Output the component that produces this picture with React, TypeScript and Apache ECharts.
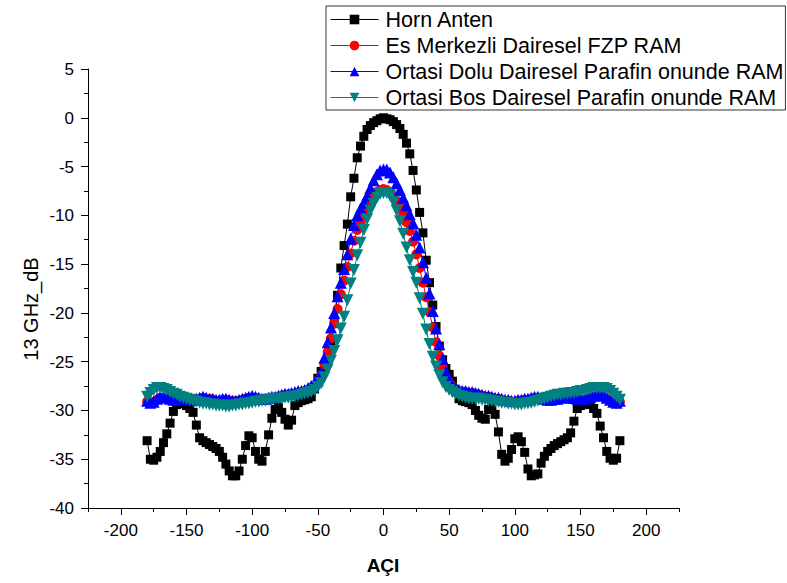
import React, { useEffect, useRef } from "react";
import * as echarts from "echarts";

// Angles: -180 .. 180 step 2.5 (145 points); each row below = 8 points (20 degrees)
const angleStart = -180;
const angleStep = 2.5;

const horn = [
  -33.1, -35.0, -35.1, -34.8, -34.2, -33.3, -32.4, -31.3, // -180
  -30.1, -29.4, -29.2, -29.3, -29.5, -29.8, -30.2, -31.5, // -160
  -32.8, -33.1, -33.3, -33.5, -33.7, -33.9, -34.2, -34.8, // -140
  -35.5, -36.2, -36.7, -36.7, -36.2, -35.0, -33.6, -32.6, // -120
  -32.8, -34.2, -35.0, -35.2, -34.2, -32.5, -30.8, -29.9, // -100
  -29.7, -30.2, -30.9, -31.5, -31.0, -29.5, -29.2, -29.0, // -80
  -28.9, -28.8, -28.6, -27.8, -26.7, -26.0, -25.4, -24.5, // -60
  -23.3, -21.1, -18.2, -15.4, -13.1, -10.9, -8.1, -6.2, // -40
  -4.1, -2.9, -1.9, -1.2, -0.8, -0.5, -0.3, -0.1, // -20
  0.0, -0.1, -0.2, -0.4, -0.7, -1.1, -1.7, -2.6, // 0
  -3.7, -5.4, -7.4, -9.7, -11.8, -14.6, -16.9, -19.2, // 20
  -21.4, -23.4, -24.8, -25.7, -26.3, -27.0, -28.1, -28.8, // 40
  -29.0, -29.1, -29.2, -29.4, -30.0, -30.5, -30.8, -30.9, // 60
  -29.9, -29.8, -30.4, -32.2, -34.5, -35.2, -34.9, -34.0, // 80
  -32.9, -32.7, -33.2, -34.3, -36.0, -36.7, -36.6, -36.5, // 100
  -35.4, -34.7, -34.2, -33.9, -33.6, -33.4, -33.2, -33.0, // 120
  -32.8, -32.3, -31.1, -29.8, -29.5, -29.4, -29.3, -29.4, // 140
  -29.8, -30.3, -31.6, -32.8, -34.2, -34.9, -35.1, -34.9, // 160
  -33.1, // 180
];

const esMerkezli = [
  -29.1, -29.2, -29.1, -28.9, -28.7, -28.7, -28.8, -28.9,
  -28.9, -29.0, -28.9, -28.8, -28.8, -28.9, -29.0, -28.9,
  -28.8, -28.7, -28.8, -28.8, -28.9, -29.0, -29.0, -28.9,
  -28.9, -29.0, -29.0, -29.1, -29.0, -28.9, -28.8, -28.7,
  -28.7, -28.7, -28.8, -28.9, -28.9, -28.8, -28.7, -28.7,
  -28.6, -28.5, -28.4, -28.4, -28.3, -28.3, -28.2, -28.1,
  -28.0, -27.9, -27.7, -27.4, -27.0, -26.4, -25.3, -24.0,
  -22.6, -21.1, -19.6, -18.1, -16.7, -15.3, -13.9, -12.6,
  -11.5, -10.6, -9.8, -9.1, -8.5, -8.0, -7.6, -7.4,
  -7.3, -7.4, -7.6, -8.0, -8.5, -9.1, -9.8, -10.7,
  -11.6, -12.7, -14.0, -15.4, -16.9, -18.4, -19.9, -21.5,
  -23.0, -24.4, -25.6, -26.5, -27.1, -27.5, -27.8, -28.0,
  -28.1, -28.1, -28.2, -28.2, -28.3, -28.4, -28.5, -28.6,
  -28.6, -28.7, -28.8, -28.8, -28.9, -29.0, -29.0, -29.1,
  -29.1, -29.0, -29.0, -28.9, -28.9, -28.8, -28.7, -28.7,
  -28.8, -28.9, -29.0, -29.0, -28.9, -28.9, -28.8, -28.7,
  -28.7, -28.8, -28.8, -28.9, -28.9, -28.9, -28.8, -28.7,
  -28.6, -28.5, -28.5, -28.6, -28.8, -29.0, -29.2, -29.3,
  -29.1,
];

const ortasiDolu = [
  -29.0, -29.2, -29.1, -28.8, -28.6, -28.6, -28.7, -28.8,
  -28.9, -28.9, -28.8, -28.7, -28.8, -28.9, -28.9, -28.8,
  -28.7, -28.6, -28.7, -28.8, -28.8, -28.9, -28.9, -28.8,
  -28.8, -28.9, -29.0, -29.0, -28.9, -28.8, -28.7, -28.6,
  -28.5, -28.6, -28.7, -28.8, -28.8, -28.7, -28.6, -28.6,
  -28.5, -28.4, -28.3, -28.3, -28.2, -28.1, -28.0, -28.0,
  -27.9, -27.7, -27.5, -27.2, -26.9, -26.1, -24.6, -23.0,
  -21.5, -20.0, -18.3, -16.9, -15.5, -14.0, -12.4, -11.0,
  -10.0, -9.3, -8.7, -8.0, -7.2, -6.4, -5.8, -5.4,
  -5.3, -5.3, -5.6, -6.1, -6.7, -7.4, -8.2, -9.0,
  -9.9, -10.8, -12.0, -13.3, -14.8, -16.4, -18.0, -19.8,
  -21.6, -23.2, -24.7, -26.0, -26.9, -27.4, -27.7, -27.9,
  -28.0, -28.0, -28.1, -28.1, -28.2, -28.3, -28.4, -28.5,
  -28.5, -28.6, -28.7, -28.7, -28.8, -28.9, -28.9, -29.0,
  -29.0, -28.9, -28.9, -28.8, -28.8, -28.7, -28.6, -28.6,
  -28.7, -28.8, -28.9, -28.9, -28.8, -28.8, -28.7, -28.6,
  -28.6, -28.7, -28.7, -28.8, -28.8, -28.8, -28.7, -28.6,
  -28.5, -28.4, -28.4, -28.5, -28.7, -28.9, -29.1, -29.2,
  -29.0,
];

const ortasiBos = [
  -28.6, -28.2, -27.9, -27.7, -27.7, -27.8, -27.9, -28.1,
  -28.3, -28.4, -28.6, -28.7, -28.8, -28.9, -29.0, -29.1,
  -29.2, -29.3, -29.3, -29.4, -29.4, -29.5, -29.5, -29.5,
  -29.6, -29.6, -29.5, -29.5, -29.4, -29.4, -29.3, -29.3,
  -29.2, -29.1, -29.1, -29.0, -29.0, -28.9, -28.9, -28.8,
  -28.8, -28.8, -28.7, -28.7, -28.6, -28.6, -28.5, -28.4,
  -28.3, -28.2, -28.1, -27.9, -27.6, -27.2, -26.6, -25.8,
  -24.9, -23.9, -22.8, -21.6, -20.4, -18.7, -17.0, -15.6,
  -14.1, -12.8, -11.5, -10.4, -9.5, -8.8, -8.2, -7.8,
  -7.7, -7.7, -8.0, -8.6, -9.5, -10.6, -11.9, -13.3,
  -14.6, -15.8, -16.9, -18.5, -20.1, -21.7, -23.2, -24.5,
  -25.5, -26.4, -27.1, -27.6, -27.9, -28.1, -28.3, -28.5,
  -28.6, -28.7, -28.8, -28.8, -28.8, -28.8, -28.9, -28.9,
  -29.0, -29.0, -29.1, -29.1, -29.2, -29.2, -29.3, -29.3,
  -29.4, -29.4, -29.4, -29.3, -29.3, -29.2, -29.1, -29.0,
  -28.9, -28.8, -28.7, -28.6, -28.5, -28.4, -28.4, -28.3,
  -28.3, -28.2, -28.2, -28.1, -28.0, -28.0, -27.9, -27.8,
  -27.7, -27.7, -27.7, -27.7, -27.8, -28.0, -28.3, -28.6,
  -28.9,
];

const seriesNames = [
  "Horn Anten",
  "Es Merkezli Dairesel FZP RAM",
  "Ortasi Dolu Dairesel Parafin onunde RAM",
  "Ortasi Bos Dairesel Parafin onunde RAM",
];
const xAxisTitle = "AÇI";
const yAxisTitle = "13 GHz_dB";
const xMajorTicks = [-200, -150, -100, -50, 0, 50, 100, 150, 200];
const xMinorTicks = [-225, -175, -125, -75, -25, 25, 75, 125, 175, 225];
const yMajorTicks = [5, 0, -5, -10, -15, -20, -25, -30, -35, -40];

const FONT = "'Liberation Sans', Arial, Helvetica, sans-serif";
const TICK_FONT = "17px " + FONT;

function pairs(values: number[]) {
  return values.map((v, i) => [angleStart + i * angleStep, v]);
}

export default function App() {
  const ref = useRef<HTMLDivElement>(null);
  useEffect(() => {
    if (!ref.current) return;
    const chart = echarts.init(ref.current, undefined, { renderer: "svg" });
    const invTri = "path://M0,0 L10,0 L5,9 Z";
    const mk = (name: string, values: number[], symbol: string, size: number, color: string) => ({
      name,
      type: "line",
      data: pairs(values),
      symbol,
      symbolSize: size,
      showAllSymbol: true,
      lineStyle: { color, width: 1 },
      itemStyle: { color },
      emphasis: { disabled: true },
      z: 2,
    });
    chart.setOption({
      animation: false,
      backgroundColor: "#ffffff",
      textStyle: { fontFamily: FONT },
      grid: { left: 88, right: 108, top: 69, bottom: 75, containLabel: false },
      legend: {
        data: seriesNames,
        orient: "vertical",
        left: 326,
        top: 6,
        borderColor: "#333",
        borderWidth: 1,
        borderRadius: 0,
        padding: [2, 2, 1, 4],
        itemGap: 3,
        itemWidth: 48,
        itemHeight: 12,
        lineStyle: { width: 1 },
        textStyle: { fontSize: 21.5, color: "#000", fontFamily: FONT, lineHeight: 23, padding: [0, 0, 0, 2] },
      },
      xAxis: [
        {
          type: "value",
          min: -225,
          max: 225,
          position: "bottom",
          axisLine: { show: true, onZero: false, lineStyle: { color: "#000", width: 1 } },
          axisTick: { show: true, inside: false, length: 7, customValues: xMajorTicks, lineStyle: { color: "#000" } },
          axisLabel: { show: false },
          splitLine: { show: false },
        },
        {
          type: "value",
          min: -225,
          max: 225,
          position: "bottom",
          offset: 0,
          axisLine: { show: false, onZero: false },
          axisTick: { show: true, inside: false, length: 4, customValues: xMinorTicks, lineStyle: { color: "#000" } },
          axisLabel: { show: false },
          splitLine: { show: false },
        },
      ],
      yAxis: {
        type: "value",
        min: -40,
        max: 5,
        interval: 5,
        axisLine: { show: true, onZero: false, lineStyle: { color: "#000", width: 1 } },
        axisTick: { show: true, inside: false, length: 7, lineStyle: { color: "#000" } },
        minorTick: { show: true, splitNumber: 2, length: 4, lineStyle: { color: "#000" } },
        axisLabel: { show: false },
        splitLine: { show: false },
      },
      series: [
        mk(seriesNames[0], horn, "rect", 9, "#000000"),
        mk(seriesNames[1], esMerkezli, "circle", 10, "#ff0000"),
        mk(seriesNames[2], ortasiDolu, "triangle", 12, "#0000ff"),
        mk(seriesNames[3], ortasiBos, invTri, 12, "#008080"),
      ],
    });

    // Tick labels placed through the axes' own scales
    const xAxisY = chart.convertToPixel({ yAxisIndex: 0 }, -40) as number;
    const yAxisX = chart.convertToPixel({ xAxisIndex: 0 }, -225) as number;
    const graphics: any[] = [];
    xMajorTicks.forEach((v) => {
      const px = chart.convertToPixel({ xAxisIndex: 0 }, v) as number;
      graphics.push({
        type: "text",
        x: px,
        y: xAxisY + 22,
        silent: true,
        style: { text: String(v), font: TICK_FONT, fill: "#000", textAlign: "center", textVerticalAlign: "middle" },
      });
    });
    yMajorTicks.forEach((v) => {
      const py = chart.convertToPixel({ yAxisIndex: 0 }, v) as number;
      graphics.push({
        type: "text",
        x: yAxisX - 14,
        y: py + 0.5,
        silent: true,
        style: { text: String(v), font: TICK_FONT, fill: "#000", textAlign: "right", textVerticalAlign: "middle" },
      });
    });
    graphics.push({
      type: "text",
      x: 383,
      y: 565,
      silent: true,
      style: { text: xAxisTitle, font: "bold 19px " + FONT, fill: "#000", textAlign: "center", textVerticalAlign: "middle" },
    });
    graphics.push({
      type: "text",
      x: 31,
      y: 309,
      rotation: Math.PI / 2,
      silent: true,
      style: { text: yAxisTitle, font: "20px " + FONT, fill: "#000", textAlign: "center", textVerticalAlign: "middle" },
    });
    chart.setOption({ graphic: graphics });

    return () => chart.dispose();
  }, []);
  return (
    <div
      ref={ref}
      style={{ position: "absolute", left: 0, top: 0, width: 787, height: 583, background: "#fff" }}
    />
  );
}
